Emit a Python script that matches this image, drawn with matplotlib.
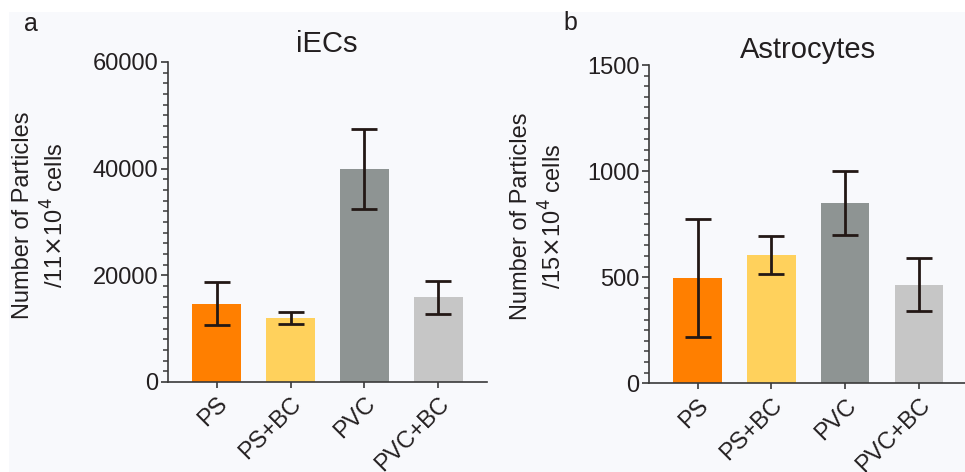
import numpy as np
import matplotlib.pyplot as plt
from matplotlib.patches import Rectangle
from matplotlib.ticker import MultipleLocator

plt.rcParams['font.family'] = ['Liberation Sans', 'DejaVu Sans']

groups = ['PS', 'PS+BC', 'PVC', 'PVC+BC']
colors = ['#FF7F00', '#FFD15C', '#8E9493', '#C6C6C6']

iec_mean = [14700, 12000, 40000, 15900]
iec_err = [4000, 1050, 7500, 3130]

ast_mean = [498, 604, 848, 465]
ast_err = [278, 91, 151, 126]

txt = '#231F20'
bg = '#F8F9FC'

fig = plt.figure(figsize=(9.65, 4.72), dpi=100)
fig.patches.append(Rectangle((9 / 965, 0), 1, 1 - 12 / 472, transform=fig.transFigure,
                             facecolor=bg, edgecolor='none', zorder=-10))


def panel(rect, means, errs, ymax, major, minor):
    ax = fig.add_axes(rect)
    ax.patch.set_alpha(0)
    x = np.arange(len(groups))
    ax.bar(x, means, width=0.66, color=colors, zorder=2)
    ax.errorbar(x, means, yerr=errs, fmt='none', ecolor='#231815', elinewidth=2.0,
                capsize=9.7, capthick=2.0, zorder=3)
    ax.set_ylim(0, ymax)
    ax.set_xlim(-0.66, 3.66)
    ax.yaxis.set_major_locator(MultipleLocator(major))
    ax.yaxis.set_minor_locator(MultipleLocator(minor))
    for s in ['top', 'right']:
        ax.spines[s].set_visible(False)
    for s in ['left', 'bottom']:
        ax.spines[s].set_linewidth(1.2)
        ax.spines[s].set_color('#3A3A3A')
    ax.tick_params(axis='y', which='major', length=5, width=1.2, color='#3A3A3A',
                   labelsize=17, labelcolor=txt, pad=2)
    ax.tick_params(axis='y', which='minor', length=3.5, width=1.1, color='#3A3A3A')
    ax.tick_params(axis='x', length=4, width=1.2, color='#3A3A3A',
                   labelsize=17, labelcolor=txt, pad=4)
    ax.set_xticks(x)
    ax.set_xticklabels(groups, rotation=45, ha='right', rotation_mode='anchor')
    return ax


panel([168 / 965, 1 - 382 / 472, 319 / 965, 320 / 472], iec_mean, iec_err, 60000, 20000, 2000)
panel([649 / 965, 1 - 383.3 / 472, 318.5 / 965, 318.3 / 472], ast_mean, ast_err, 1500, 500, 50)

fig.text(327 / 965, 1 - 44 / 472, 'iECs', ha='center', va='center', fontsize=21, color=txt)
fig.text(808 / 965, 1 - 50 / 472, 'Astrocytes', ha='center', va='center', fontsize=21, color=txt)
fig.text(31 / 965, 1 - 24 / 472, 'a', ha='center', va='center', fontsize=18, color=txt)
fig.text(570 / 965, 1 - 23 / 472, 'b', ha='center', va='center', fontsize=18, color=txt)

fig.text(23 / 965, 1 - 215 / 472, 'Number of Particles', rotation=90, ha='center', va='center',
         fontsize=17, color=txt)
fig.text(55 / 965, 1 - 215 / 472, r'/11$\times$10$^{4}$ cells', rotation=90, ha='center', va='center',
         fontsize=17, color=txt)
fig.text(521 / 965, 1 - 216 / 472, 'Number of Particles', rotation=90, ha='center', va='center',
         fontsize=17, color=txt)
fig.text(553 / 965, 1 - 216 / 472, r'/15$\times$10$^{4}$ cells', rotation=90, ha='center', va='center',
         fontsize=17, color=txt)

fig.savefig('out.png', dpi=100, facecolor='white')
